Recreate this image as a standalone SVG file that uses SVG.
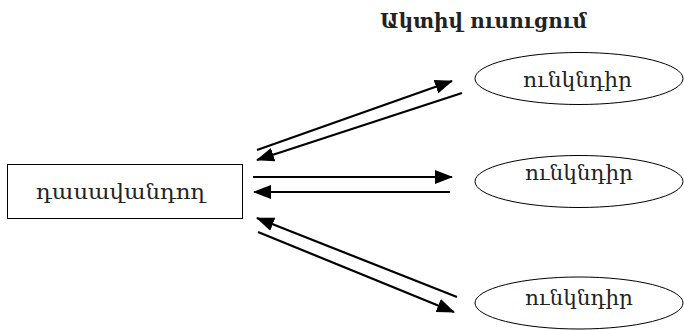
<svg xmlns="http://www.w3.org/2000/svg" width="684" height="330" viewBox="0 0 684 330">
<style>
.node{fill:#fff;stroke:#000;stroke-width:1}
.lbl{font-family:"DejaVu Serif","Noto Serif",serif;font-size:21px;fill:#222;text-anchor:middle}
.title{font-family:"DejaVu Serif","Noto Serif",serif;font-size:20px;font-weight:bold;fill:#222;text-anchor:middle}
.conn{stroke:#000;stroke-width:2.2;fill:none;marker-end:url(#ah)}
</style>
<defs>
<marker id="ah" markerUnits="userSpaceOnUse" markerWidth="18" markerHeight="14" viewBox="0 0 18 14" refX="17" refY="7" orient="auto">
<path d="M0,0 L18,7 L0,14 Z" fill="#000"/>
</marker>
</defs>
<rect width="684" height="330" fill="#fff"/>
<text class="title" x="483.5" y="28" textLength="207" lengthAdjust="spacingAndGlyphs">Ակտիվ ուսուցում</text>
<g id="teacher">
<rect class="node" x="7.5" y="164.5" width="235" height="54"/>
<text class="lbl" x="120.5" y="199" textLength="169" lengthAdjust="spacingAndGlyphs">դասավանդող</text>
</g>
<g id="student1">
<ellipse class="node" cx="579" cy="78.5" rx="104" ry="26"/>
<text class="lbl" x="577.5" y="87" textLength="109" lengthAdjust="spacingAndGlyphs">ունկնդիր</text>
</g>
<g id="student2">
<ellipse class="node" cx="579" cy="181.5" rx="104" ry="26"/>
<text class="lbl" x="579" y="180" textLength="108" lengthAdjust="spacingAndGlyphs">ունկնդիր</text>
</g>
<g id="student3">
<ellipse class="node" cx="579" cy="303" rx="104" ry="26"/>
<text class="lbl" x="579" y="305" textLength="108" lengthAdjust="spacingAndGlyphs">ունկնդիր</text>
</g>
<g id="connectors">
<line class="conn" x1="257" y1="150" x2="452" y2="81"/>
<line class="conn" x1="462" y1="93" x2="257" y2="160"/>
<line class="conn" x1="253" y1="177" x2="452" y2="177"/>
<line class="conn" x1="450" y1="192" x2="254" y2="192"/>
<line class="conn" x1="457" y1="297" x2="257" y2="218"/>
<line class="conn" x1="258" y1="232" x2="454" y2="312"/>
</g>
</svg>
